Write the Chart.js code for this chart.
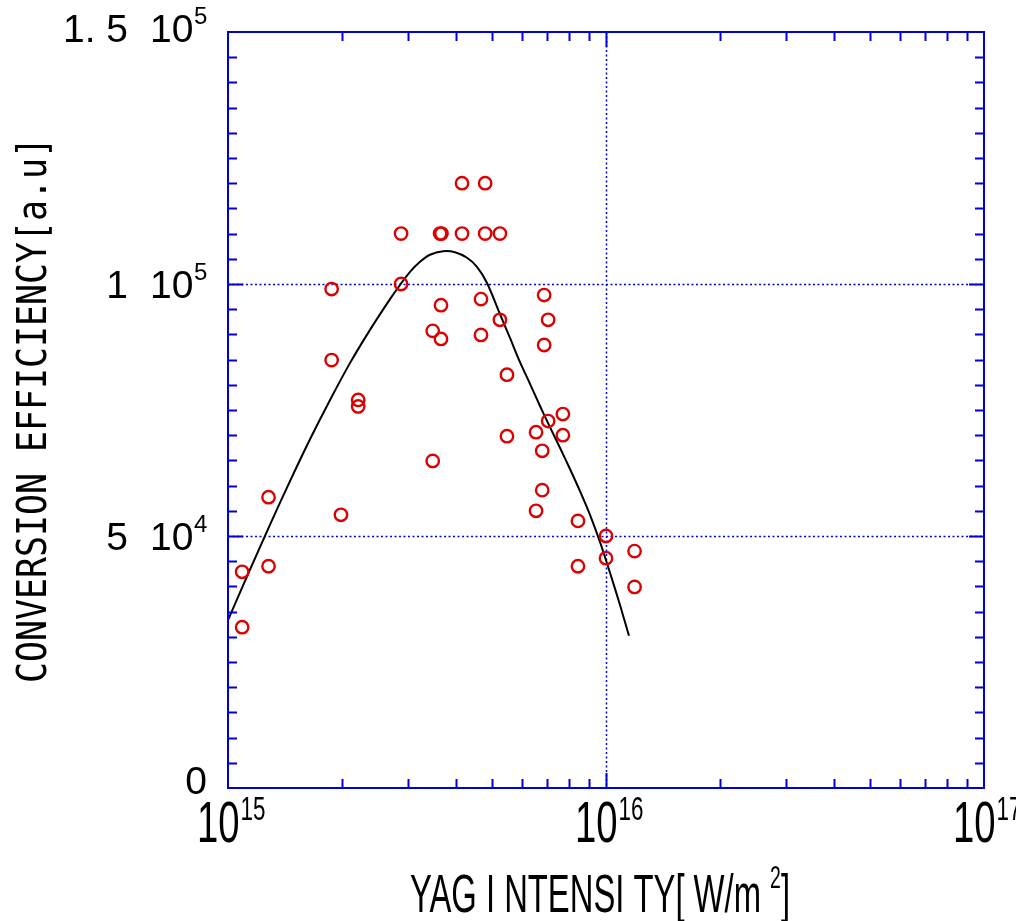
<!DOCTYPE html>
<html>
<head>
<meta charset="utf-8">
<script src="https://cdn.jsdelivr.net/npm/chart.js@4.4.0/dist/chart.umd.min.js"></script>
<style>
  html, body { margin: 0; padding: 0; background: #fff; }
  canvas { display: block; }
</style>
</head>
<body>
<canvas id="chart" width="1016" height="921"></canvas>
<script>
// measured points (intensity in W/m2, efficiency in a.u.)
const pointIntensity = [
  1.09e15, 1.09e15, 1.28e15, 1.28e15, 1.88e15, 1.88e15, 1.99e15, 2.21e15, 2.21e15,
  2.87e15, 2.87e15, 3.48e15, 3.48e15, 3.64e15, 3.67e15, 3.66e15, 3.66e15,
  4.16e15, 4.16e15, 4.67e15, 4.67e15, 4.79e15, 4.79e15, 5.24e15, 5.24e15,
  5.47e15, 5.47e15, 6.53e15, 6.53e15, 6.78e15, 6.78e15, 6.86e15, 6.86e15,
  7.03e15, 7.03e15, 7.69e15, 7.69e15, 8.43e15, 8.43e15, 1.0e16, 1.0e16,
  1.19e16, 1.19e16
];
const pointEfficiency = [
  42900, 31900, 57700, 44000, 99000, 84900, 54200, 77000, 75700,
  110000, 100000, 90700, 64900, 110000, 110000, 95800, 89100,
  120000, 110000, 97000, 89900, 120000, 110000, 110000, 92900,
  82000, 69800, 70600, 55000, 66900, 59100, 97800, 87900,
  92900, 72800, 74200, 70000, 53000, 44000, 50000, 45600,
  47000, 39900
];

// fitted curve
const curveIntensity = [
  1.000e15, 1.143e15, 1.291e15, 1.459e15, 1.648e15, 1.862e15, 2.102e15, 2.375e15,
  2.683e15, 2.851e15, 3.030e15, 3.221e15, 3.422e15, 3.706e15, 3.986e15, 4.289e15,
  4.557e15, 4.844e15, 5.244e15, 5.572e15, 5.922e15, 6.294e15, 6.690e15, 7.109e15,
  7.555e15, 8.030e15, 8.535e15, 9.072e15, 9.641e15, 1.0247e16, 1.0891e16, 1.1503e16
];
const curveEfficiency = [
  33300, 43300, 52200, 60900, 69200, 77000, 84300, 90900,
  97000, 99800, 102400, 104400, 105800, 106500, 106300, 105200,
  103400, 100200, 94000, 89300, 84500, 80200, 75800, 71600,
  67500, 63300, 58900, 54200, 48800, 42700, 36300, 30200
];

const xTickValues = [1e15, 1e16, 1e17];
const xTickExponents = ['15', '16', '17'];
const yTickValues = [0, 50000, 100000, 150000];
const yTickMantissas = ['0', '5', '1', '1. 5'];
const yTickExponents = ['', '4', '5', '5'];
const xGridValues = [1e16];
const yGridValues = [50000, 100000];

const xTitle = 'YAG I NTENSI TY[ W/m ';
const xTitleSup = '2';
const xTitleEnd = ']';
const yTitle = 'CONVERSION EFFICIENCY[a.u]';

const blue = '#0000d8';
const sans = '"Liberation Sans", Arial, sans-serif';

function seg(ctx, x1, y1, x2, y2) {
  ctx.beginPath();
  ctx.moveTo(x1, y1);
  ctx.lineTo(x2, y2);
  ctx.stroke();
}

// draw text squeezed horizontally, anchored at its left edge
function narrowText(ctx, text, x, y, font, sx) {
  ctx.save();
  ctx.font = font;
  ctx.translate(x, y);
  ctx.scale(sx, 1);
  ctx.textAlign = 'left';
  ctx.fillText(text, 0, 0);
  ctx.restore();
  ctx.font = font;
  return ctx.measureText(text).width * sx;
}

const framePlugin = {
  id: 'frame',
  beforeDatasetsDraw(chart) {
    const { ctx, chartArea: a, scales: { x, y } } = chart;
    ctx.save();
    ctx.strokeStyle = blue;
    ctx.lineWidth = 1.5;
    ctx.setLineDash([2, 2.5]);
    xGridValues.forEach(v => {
      const px = Math.round(x.getPixelForValue(v)) + 0.5;
      seg(ctx, px, a.top, px, a.bottom);
    });
    yGridValues.forEach(v => {
      const py = Math.round(y.getPixelForValue(v)) + 0.5;
      seg(ctx, a.left, py, a.right, py);
    });
    ctx.restore();
  },
  afterDatasetsDraw(chart) {
    const { ctx, chartArea: a, scales: { x, y } } = chart;
    ctx.save();
    ctx.strokeStyle = blue;
    ctx.lineWidth = 2;
    ctx.strokeRect(a.left, a.top, a.right - a.left, a.bottom - a.top);

    // y ticks every 5000, longer at the labelled values
    for (let v = 5000; v < 150000; v += 5000) {
      const py = Math.round(y.getPixelForValue(v)) + 0.5;
      const len = v % 50000 === 0 ? 15 : 9;
      seg(ctx, a.left, py, a.left + len, py);
      seg(ctx, a.right, py, a.right - len, py);
    }
    // x ticks on log scale
    for (let d = 15; d < 17; d++) {
      for (let m = 2; m <= 10; m++) {
        const v = m * Math.pow(10, d);
        if (v >= 1e17) continue;
        const px = Math.round(x.getPixelForValue(v)) + 0.5;
        const len = m === 10 ? 15 : 9;
        seg(ctx, px, a.bottom, px, a.bottom - len);
        seg(ctx, px, a.top, px, a.top + len);
      }
    }

    // y tick labels
    ctx.fillStyle = '#000';
    ctx.textBaseline = 'alphabetic';
    yTickValues.forEach((v, i) => {
      const py = y.getPixelForValue(v);
      if (!yTickExponents[i]) {
        ctx.font = '39px ' + sans;
        ctx.textAlign = 'right';
        ctx.fillText(yTickMantissas[i], 207, py + 6);
        return;
      }
      const base = py + 14 - (v === 150000 ? 4 : 0);
      ctx.font = '39px ' + sans;
      ctx.textAlign = 'right';
      ctx.fillText(yTickMantissas[i], 128, base);
      ctx.textAlign = 'left';
      ctx.fillText('10', 150, base);
      ctx.font = '24px ' + sans;
      ctx.fillText(yTickExponents[i], 194, base - 18);
    });

    // x tick labels, narrow face
    xTickValues.forEach((v, i) => {
      const px = x.getPixelForValue(v);
      const w = narrowText(ctx, '10', px - 31, 842, '58px ' + sans, 0.66);
      narrowText(ctx, xTickExponents[i], px - 31 + w + 1, 820, '34px ' + sans, 0.66);
    });

    // x title
    ctx.font = '54px ' + sans;
    const mainW = ctx.measureText(xTitle).width;
    const endW = ctx.measureText(xTitleEnd).width;
    ctx.font = '32px ' + sans;
    const supW = ctx.measureText(xTitleSup).width;
    const sx = 380 / (mainW + endW + supW);
    let cx = 410;
    cx += narrowText(ctx, xTitle, cx, 912, '54px ' + sans, sx);
    cx += narrowText(ctx, xTitleSup, cx, 888, '32px ' + sans, sx);
    narrowText(ctx, xTitleEnd, cx, 912, '54px ' + sans, sx);

    // y title, monospace, rotated
    ctx.save();
    ctx.font = '41px "DejaVu Sans Mono", monospace';
    const tw = ctx.measureText(yTitle).width;
    ctx.translate(46, 410);
    ctx.rotate(-Math.PI / 2);
    ctx.scale(546 / tw, 1);
    ctx.textAlign = 'center';
    ctx.textBaseline = 'alphabetic';
    ctx.fillText(yTitle, 0, 0);
    ctx.restore();

    ctx.restore();
  }
};

new Chart(document.getElementById('chart').getContext('2d'), {
  type: 'scatter',
  data: {
    datasets: [
      {
        label: 'fit',
        data: curveIntensity.map((v, i) => ({ x: v, y: curveEfficiency[i] })),
        showLine: true,
        borderColor: '#000',
        borderWidth: 2,
        pointRadius: 0,
        tension: 0.3,
        order: 2
      },
      {
        label: 'measured',
        data: pointIntensity.map((v, i) => ({ x: v, y: pointEfficiency[i] })),
        pointStyle: 'circle',
        pointRadius: 6.2,
        borderWidth: 2.4,
        borderColor: '#dd0000',
        backgroundColor: 'rgba(0,0,0,0)',
        clip: false,
        order: 1
      }
    ]
  },
  options: {
    responsive: false,
    animation: false,
    layout: { padding: { left: 228, top: 32, right: 32, bottom: 133 } },
    plugins: { legend: { display: false }, tooltip: { enabled: false } },
    scales: {
      x: { type: 'logarithmic', min: 1e15, max: 1e17, display: false },
      y: { type: 'linear', min: 0, max: 150000, display: false }
    }
  },
  plugins: [framePlugin]
});
</script>
</body>
</html>
